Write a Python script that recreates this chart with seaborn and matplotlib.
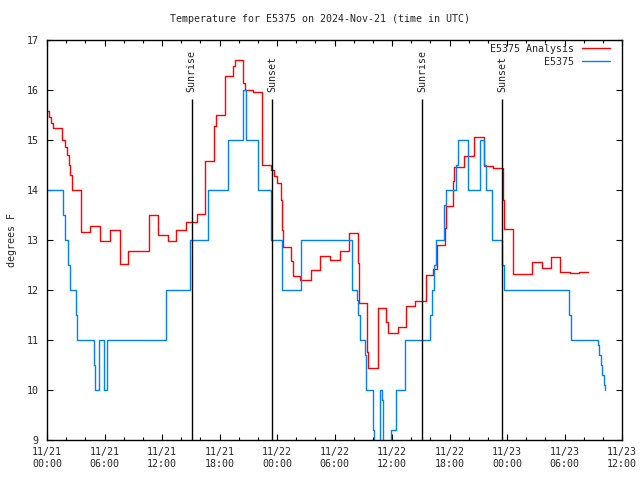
import matplotlib
matplotlib.use('Agg')
import matplotlib.pyplot as plt
import matplotlib.dates as mdates
import seaborn as sns
import pandas as pd

# hours after 2024-11-21 00:00 UTC
analysis_hours = [0.0, 0.2, 0.4, 0.6, 1.55, 1.9, 2.1, 2.3, 2.45, 2.6, 3.55, 4.45, 5.55, 6.55,
                  7.6, 8.45, 10.6, 11.55, 12.6, 13.5, 14.55, 15.6, 16.5, 17.4, 17.65, 18.6,
                  19.4, 19.6, 20.5, 20.65, 21.5, 22.45, 23.4, 23.7, 24.05, 24.4, 24.5, 24.6,
                  25.5, 25.65, 26.4, 27.55, 28.5, 29.55, 30.55, 31.5, 32.45, 32.55, 33.4,
                  33.5, 34.55, 35.4, 35.6, 36.6, 37.45, 38.4, 39.5, 40.3, 40.7, 41.5, 41.6,
                  42.4, 42.5, 43.5, 44.55, 45.55, 46.5, 47.55, 47.7, 48.6, 50.6, 51.65,
                  52.6, 53.55, 54.6, 55.55, 56.45]
analysis_temp = [15.57, 15.45, 15.33, 15.23, 15.0, 14.85, 14.7, 14.5, 14.3, 14.0, 13.15, 13.28,
                 12.98, 13.19, 12.52, 12.77, 13.49, 13.1, 12.98, 13.19, 13.36, 13.51, 14.57,
                 15.27, 15.5, 16.27, 16.48, 16.59, 16.13, 16.0, 15.95, 14.5, 14.4, 14.27,
                 14.13, 13.8, 13.2, 12.85, 12.57, 12.27, 12.2, 12.4, 12.68, 12.6, 12.78,
                 13.13, 12.53, 11.73, 10.77, 10.43, 11.63, 11.37, 11.13, 11.25, 11.67, 11.77,
                 12.3, 12.41, 12.9, 13.24, 13.68, 14.17, 14.45, 14.68, 15.05, 14.48, 14.43,
                 13.8, 13.21, 12.32, 12.55, 12.43, 12.65, 12.35, 12.33, 12.35, 12.35]

obs_hours = [0.0, 1.7, 1.9, 2.2, 2.45, 3.0, 3.15, 4.9, 5.05, 5.45, 5.9, 6.3, 12.4, 14.95,
             16.75, 18.85, 20.45, 20.8, 22.0, 23.35, 24.55, 26.55, 31.8, 32.35, 32.5, 32.7,
             33.2, 33.3, 34.0, 34.15, 34.7, 34.95, 35.1, 35.9, 36.4, 37.35, 40.0, 40.2,
             40.4, 40.6, 41.45, 41.65, 42.65, 42.9, 43.95, 45.15, 45.6, 45.85, 46.4, 47.5,
             47.65, 54.45, 54.65, 57.45, 57.65, 57.85, 57.95, 58.1, 58.2]
obs_temp = [14.0, 13.5, 13.0, 12.5, 12.0, 11.5, 11.0, 10.5, 10.0, 11.0, 10.0, 11.0, 12.0, 13.0,
            14.0, 15.0, 16.0, 15.0, 14.0, 13.0, 12.0, 13.0, 12.0, 11.8, 11.5, 11.0,
            10.7, 10.0, 9.2, 8.0, 10.0, 9.8, 8.0, 9.2, 10.0, 11.0, 11.5, 12.0,
            12.5, 13.0, 13.7, 14.0, 14.5, 15.0, 14.0, 15.0, 14.5, 14.0, 13.0, 12.5,
            12.0, 11.5, 11.0, 10.9, 10.7, 10.5, 10.3, 10.1, 10.0]

sun_hours = [15.1, 23.5, 39.15, 47.5]
sun_labels = ['Sunrise', 'Sunset', 'Sunrise', 'Sunset']

start = pd.Timestamp('2024-11-21 00:00')
end = pd.Timestamp('2024-11-23 12:00')

df = pd.concat([
    pd.DataFrame({'time': start + pd.to_timedelta(analysis_hours, unit='h'),
                  'temp': analysis_temp, 'series': 'E5375 Analysis'}),
    pd.DataFrame({'time': start + pd.to_timedelta(obs_hours, unit='h'),
                  'temp': obs_temp, 'series': 'E5375'}),
], ignore_index=True)

sns.set_style('ticks')
plt.rcParams['font.family'] = ['DejaVu Sans Mono']
plt.rcParams['font.size'] = 7.2

fig = plt.figure(figsize=(6.4, 4.8), dpi=100)
ax = fig.add_axes([47 / 640, 40 / 480, 575 / 640, 400 / 480])

sns.lineplot(data=df, x='time', y='temp', hue='series',
             palette={'E5375 Analysis': '#ff0000', 'E5375': '#0080ff'},
             estimator=None, sort=False, drawstyle='steps-post', linewidth=1.0,
             legend=False, ax=ax)

for h, lab in zip(sun_hours, sun_labels):
    t = start + pd.Timedelta(hours=h)
    ax.vlines(t, 9, 15.82, color='black', linewidth=1.0)
    ax.text(t, 15.96, lab, rotation=90, ha='center', va='bottom', fontsize=7.2)

ax.set_xlim(start, end)
ax.set_ylim(9, 17)
ax.set_yticks(range(9, 18))
ax.xaxis.set_major_locator(mdates.HourLocator(byhour=range(0, 24, 6)))
ax.xaxis.set_minor_locator(mdates.HourLocator(byhour=range(0, 24, 2)))
ax.xaxis.set_major_formatter(mdates.DateFormatter('%m/%d\n%H:%M'))
ax.tick_params(which='both', direction='in', top=True, right=True, color='black')
ax.tick_params(which='major', length=4, width=0.8, pad=5)
ax.tick_params(which='minor', length=2, width=0.8)
ax.tick_params(axis='y', pad=6)
for s in ax.spines.values():
    s.set_color('black')
    s.set_linewidth(1.0)

ax.set_xlabel('')
ax.set_ylabel('')
fig.text(12 / 640, 0.5, 'degrees F', rotation=90, ha='center', va='center', fontsize=7.2)
fig.text(0.5, 1 - 19 / 480, 'Temperature for E5375 on 2024-Nov-21 (time in UTC)',
         ha='center', va='center', fontsize=7.2)

lines = ax.get_lines()
ax.legend(handles=[lines[0], lines[1]], labels=['E5375 Analysis', 'E5375'],
          loc='upper right', bbox_to_anchor=(0.979, 0.99), frameon=False,
          markerfirst=False, handlelength=2.8, handletextpad=0.8,
          labelspacing=0.3, borderpad=0, borderaxespad=0, fontsize=7.2)

fig.savefig('out.png', dpi=100)
